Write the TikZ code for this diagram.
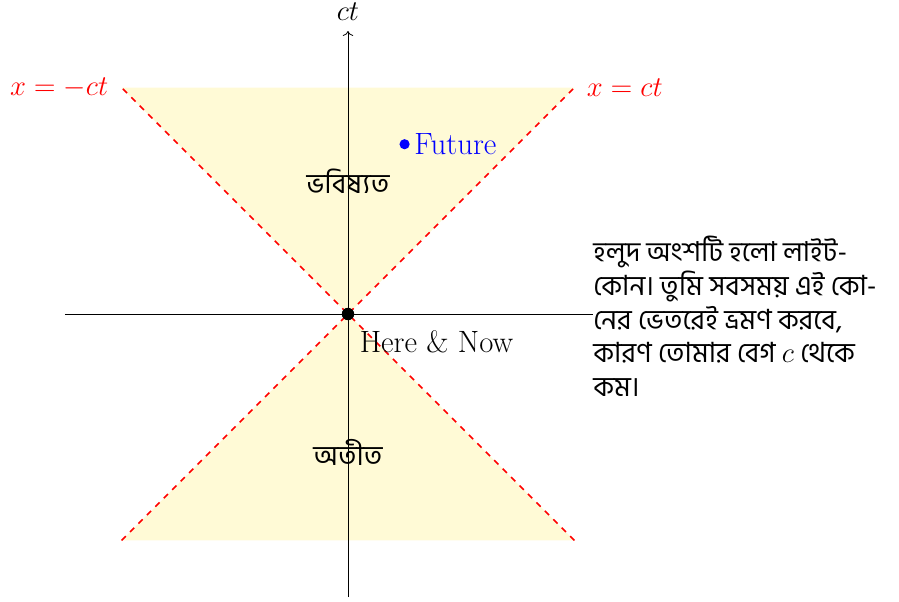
\documentclass[tikz,border=0pt]{standalone}
\usepackage{amsmath}
\usepackage{fontspec}
\usepackage{tikz}
\usetikzlibrary{arrows.meta, positioning, calc}
\newfontfamily\bnfont[Script=Bengali]{Hind Siliguri}
\definecolor{conefill}{RGB}{255, 250, 214}

\begin{document}
\begin{tikzpicture}[
    axis/.style={->},
    coneline/.style={thick, dashed, red},
    bntext/.style={font=\bnfont\fontsize{14}{17}\selectfont},
    lmtext/.style={font=\fontsize{15.5}{18}\selectfont},
    event/.style={circle, fill, inner sep=0pt}
]
\useasboundingbox (-6.148,-5.071) rectangle (9.735,5.548);

% light cone
\fill[conefill] (-4,4) -- (4,4) -- (0,0) -- cycle;
\fill[conefill] (-4,-4) -- (4,-4) -- (0,0) -- cycle;

\coordinate (o) at (0,0);
\coordinate (xl) at (-5,0);
\coordinate (xr) at (5,0);
\coordinate (tb) at (-0,-5);
\coordinate (tt) at (0,5);

\draw[axis] (xl) -- (xr);
\draw[axis] (tb) -- (tt) node[above, font=\Large, yshift=1.5pt] (ct) {$ct$};

\coordinate (ul) at (-4,4);
\coordinate (ur) at (4,4);
\coordinate (ll) at (-4,-4);
\coordinate (lr) at (4,-4);
\draw[coneline] (ll) -- (ur) node[right, font=\Large, xshift=2.5pt] (plus) {$x=ct$};
\draw[coneline] (lr) -- (ul) node[left, font=\Large, xshift=-3pt] (minus) {$x=-ct$};

\node[bntext] (future) at (0,2.35) {ভবিষ্যত};
\node[bntext] (past) at (0,-2.45) {অতীত};

\node[event, minimum size=0.22cm] (now) at (o) {};
\node[below right=0.2cm and 0.12cm of now, lmtext, inner sep=0pt] (herenow) {Here \& Now};

\node[event, blue, minimum size=0.18cm] (ev) at (1,3) {};
\node[right=1pt of ev, blue, lmtext, inner sep=1pt] (evlabel) {Future};

\node[bntext, fill=white, inner sep=0pt, anchor=west, align=left] (note) at (4.33,-0.04)
    {\fontsize{13.8}{17.3}\selectfont হলুদ অংশটি হলো লাইট-\\কোন। তুমি সবসময় এই কো-\\নের ভেতরেই ভ্রমণ করবে,\\কারণ তোমার বেগ $c$ থেকে\\কম।};
\end{tikzpicture}
\end{document}
